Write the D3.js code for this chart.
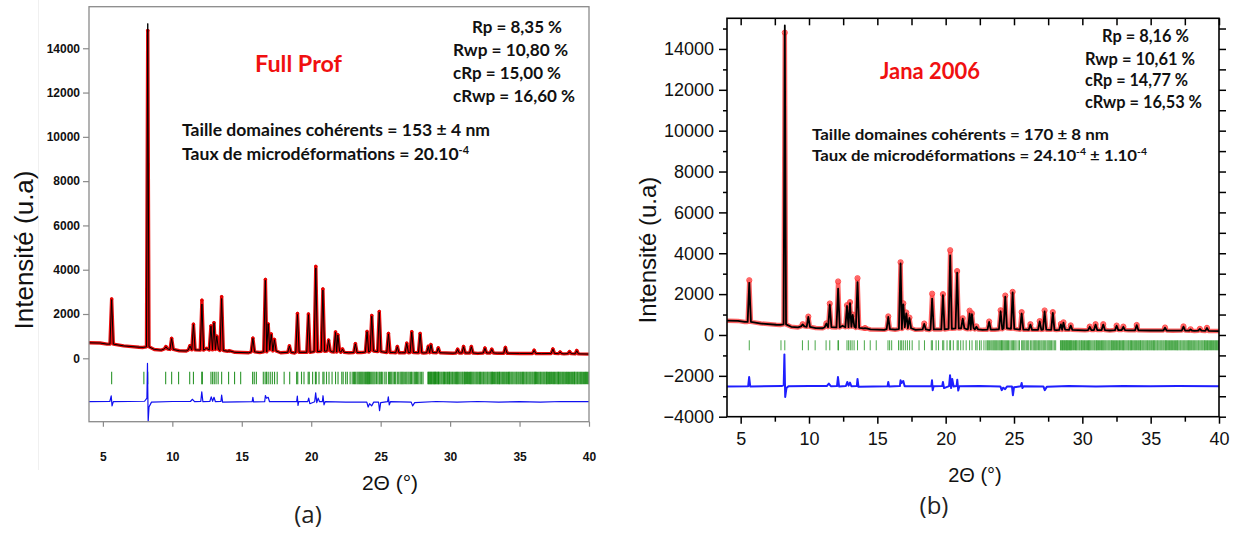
<!DOCTYPE html>
<html><head><meta charset="utf-8">
<script src="https://cdn.jsdelivr.net/npm/d3@7"></script>
<style>body{margin:0;background:#fff}svg{display:block}</style>
</head><body>
<svg id="chart" width="1239" height="534"></svg>
<script>
// ---------------- DATA ----------------
// Reflection profile (same measured pattern for both refinements)
const peakPos  = [5.63, 8.23, 9.54, 9.95, 11.27, 11.52, 12.13, 12.78, 13.0, 13.2, 13.55, 14.1, 15.8, 16.7, 16.9, 17.12, 17.35, 18.43, 19.01, 19.8, 20.33, 20.84, 21.25, 21.75, 21.92, 22.25, 23.18, 24.02, 24.36, 24.9, 25.56, 26.2, 26.88, 27.24, 27.84, 28.43, 28.62, 29.15, 30.54, 30.97, 31.53, 32.51, 33.0, 33.98, 36.05, 37.4, 37.92, 38.6, 39.12];
const peakBase = [640, 520, 420, 400, 380, 380, 370, 380, 420, 400, 350, 320, 290, 290, 420, 380, 330, 270, 270, 270, 300, 320, 330, 280, 330, 270, 260, 280, 330, 300, 260, 250, 250, 260, 250, 250, 260, 250, 240, 240, 240, 240, 240, 230, 220, 220, 210, 210, 200];
const peakObs  = [2680, 14800, 530, 900, 570, 1540, 2620, 1460, 1610, 1000, 2780, 340, 910, 3560, 1550, 1100, 850, 560, 2020, 2000, 4150, 3130, 820, 1190, 1060, 420, 660, 1210, 1930, 2110, 1120, 530, 680, 1200, 1120, 540, 620, 470, 410, 530, 530, 460, 410, 490, 365, 420, 280, 300, 350];
const peakCalcFullProf = [2650, 15120, 520, 890, 560, 1520, 2450, 1450, 1600, 1000, 2700, 330, 900, 3520, 1560, 1080, 840, 550, 1980, 1970, 4080, 3080, 820, 1170, 1050, 410, 650, 1200, 1900, 2080, 1100, 520, 670, 1180, 1100, 530, 610, 460, 400, 520, 520, 450, 400, 480, 355, 410, 275, 295, 340];
const peakCalcJana = [2550, 15150, 520, 880, 560, 1480, 2270, 1420, 1560, 980, 2590, 330, 880, 3500, 1500, 1060, 830, 540, 1780, 1950, 3900, 3050, 800, 1040, 1020, 400, 640, 1160, 1880, 2080, 1050, 510, 660, 1150, 1080, 520, 600, 460, 400, 510, 510, 450, 400, 480, 355, 410, 275, 295, 340];
const bgX = [4, 4.8, 5.3, 6.5, 7.6, 7.9, 8.7, 9.2, 10.5, 11.0, 12.45, 14.5, 15.5, 16.3, 17.8, 18.8, 21.5, 22.7, 23.6, 25.9, 26.5, 28.1, 29.7, 30.2, 32.0, 33.4, 35.0, 36.6, 38.2, 40];
const bgY = [700, 690, 640, 560, 500, 490, 400, 370, 340, 330, 450, 270, 250, 260, 250, 240, 290, 250, 260, 260, 250, 240, 240, 230, 220, 230, 220, 210, 200, 190];

// Bragg reflection positions (2θ)
const braggPos = [5.63, 7.95, 8.23, 9.52, 9.95, 10.45, 11.25, 11.52, 12.12, 12.16, 12.78, 12.9, 13.02, 13.15, 13.3, 13.55, 14.05, 14.48, 14.92, 15.78, 15.9, 16.05, 16.55, 16.68, 16.78, 16.9, 17.05, 17.2, 17.36, 17.55, 18.05, 18.45, 18.95, 19.03, 19.3, 19.48, 19.78, 19.86, 20.1, 20.3, 20.36, 20.56, 20.84, 20.92, 21.1, 21.28, 21.5, 21.75, 21.93, 22.2, 22.3, 22.48, 22.6, 22.8, 22.95, 23.05, 23.12, 23.2, 23.3, 23.38, 23.46, 23.53, 23.6, 23.67, 23.74, 23.82, 23.9, 23.97, 24.04, 24.09, 24.14, 24.2, 24.28, 24.36, 24.44, 24.52, 24.6, 24.7, 24.8, 24.9, 24.97, 25.06, 25.15, 25.3, 25.4, 25.56, 25.64, 25.72, 25.8, 25.9, 26.0, 26.08, 26.2, 26.3, 26.4, 26.48, 26.55, 26.62, 26.7, 26.8, 26.88, 26.97, 27.05, 27.14, 27.22, 27.32, 27.42, 27.5, 27.58, 27.66, 27.75, 27.85, 27.95, 28.05, 28.4, 28.45, 28.5, 28.55, 28.6, 28.65, 28.7, 28.76, 28.82, 28.86, 28.9, 28.95, 29.0, 29.06, 29.12, 29.16, 29.2, 29.27, 29.35, 29.42, 29.5, 29.55, 29.6, 29.68, 29.76, 29.82, 29.9, 29.95, 30.0, 30.08, 30.16, 30.22, 30.3, 30.38, 30.45, 30.5, 30.55, 30.62, 30.7, 30.78, 30.86, 30.92, 31.0, 31.05, 31.1, 31.18, 31.25, 31.32, 31.4, 31.46, 31.52, 31.58, 31.65, 31.72, 31.8, 31.88, 31.95, 32.02, 32.1, 32.15, 32.2, 32.28, 32.36, 32.42, 32.5, 32.58, 32.66, 32.72, 32.8, 32.88, 32.95, 33.0, 33.05, 33.12, 33.2, 33.28, 33.36, 33.42, 33.5, 33.55, 33.6, 33.68, 33.76, 33.83, 33.9, 33.97, 34.05, 34.12, 34.2, 34.25, 34.3, 34.38, 34.45, 34.52, 34.6, 34.68, 34.76, 34.82, 34.9, 34.97, 35.05, 35.12, 35.2, 35.25, 35.3, 35.38, 35.46, 35.52, 35.6, 35.68, 35.75, 35.82, 35.9, 35.97, 36.05, 36.1, 36.15, 36.22, 36.3, 36.38, 36.46, 36.52, 36.6, 36.68, 36.75, 36.82, 36.9, 36.95, 37.0, 37.08, 37.16, 37.22, 37.3, 37.38, 37.45, 37.52, 37.6, 37.68, 37.75, 37.8, 37.86, 37.93, 38.0, 38.08, 38.15, 38.22, 38.3, 38.38, 38.46, 38.52, 38.6, 38.68, 38.75, 38.82, 38.9, 38.95, 39.0, 39.08, 39.16, 39.22, 39.3, 39.38, 39.45, 39.52, 39.6, 39.68, 39.75, 39.82, 39.9, 39.96];

// Difference curves (obs - calc, offset)
const diffFullProf = [[4,-1960],[5.5,-1950],[5.6,-1700],[5.66,-2150],[5.75,-1960],[8.0,-1940],[8.17,-1800],[8.21,-230],[8.26,-2863],[8.32,-2200],[8.5,-1980],[10,-1950],[11.3,-1950],[11.45,-1850],[11.6,-1960],[12.05,-1950],[12.12,-1510],[12.2,-1960],[12.7,-1950],[12.8,-1740],[12.9,-1940],[13.0,-1760],[13.1,-1960],[13.5,-1950],[13.55,-1660],[13.62,-1980],[15.75,-1960],[15.8,-1760],[15.85,-1970],[16.65,-1960],[16.7,-1680],[16.78,-1800],[16.9,-1760],[17.0,-1960],[18.95,-1960],[19.0,-1710],[19.05,-2130],[19.1,-1960],[19.75,-1960],[19.82,-1800],[19.9,-2050],[20.25,-1960],[20.32,-1560],[20.4,-2000],[20.5,-1800],[20.6,-1960],[20.8,-1960],[20.85,-1690],[20.92,-2100],[21.0,-1960],[22.5,-1980],[24.0,-1980],[24.1,-2200],[24.2,-2050],[24.35,-2150],[24.5,-1980],[24.85,-1980],[24.92,-2360],[25.0,-2000],[25.5,-1960],[25.55,-1740],[25.62,-2100],[25.7,-1960],[27.2,-1980],[27.3,-2150],[27.45,-2000],[29,-1950],[30.5,-1975],[32,-1950],[33.5,-1975],[35,-1955],[36.5,-1975],[38,-1950],[40,-1960]];
const diffJana = [[4,-2520],[5.55,-2510],[5.62,-2060],[5.7,-2520],[8.0,-2500],[8.15,-2450],[8.2,-950],[8.26,-3030],[8.35,-2600],[8.5,-2510],[10,-2500],[11.3,-2500],[11.45,-2380],[11.6,-2510],[12.05,-2500],[12.12,-2060],[12.2,-2520],[12.7,-2500],[12.8,-2300],[12.9,-2480],[13.0,-2330],[13.1,-2510],[13.5,-2500],[13.55,-2150],[13.62,-2540],[15.75,-2510],[15.8,-2300],[15.86,-2520],[16.65,-2500],[16.7,-2220],[16.78,-2350],[16.9,-2250],[17.0,-2510],[18.95,-2510],[19.0,-2220],[19.05,-2700],[19.12,-2510],[19.75,-2500],[19.8,-2300],[19.88,-2600],[20.25,-2500],[20.32,-1970],[20.4,-2600],[20.48,-2150],[20.58,-2520],[20.8,-2500],[20.85,-2190],[20.92,-2720],[21.0,-2510],[22.5,-2500],[24.0,-2520],[24.1,-2700],[24.2,-2580],[24.35,-2650],[24.5,-2520],[24.85,-2520],[24.92,-2950],[25.0,-2560],[25.5,-2510],[25.56,-2350],[25.62,-2600],[25.7,-2510],[27.15,-2520],[27.25,-2700],[27.4,-2540],[29,-2500],[31,-2520],[33,-2500],[35,-2515],[37,-2500],[40,-2510]];

// Axis ticks
const xTicks = [5, 10, 15, 20, 25, 30, 35, 40];
const xMinorTicks = [7.5, 12.5, 17.5, 22.5, 27.5, 32.5, 37.5];
const yTicksFullProf = [0, 2000, 4000, 6000, 8000, 10000, 12000, 14000];
const yTicksJana = [-4000, -2000, 0, 2000, 4000, 6000, 8000, 10000, 12000, 14000];
const yMinorJana = [-3000, -1000, 1000, 3000, 5000, 7000, 9000, 11000, 13000, 15000];

// Texts
const statsFullProf = ["Rp = 8,35 %", "Rwp = 10,80 %", "cRp = 15,00 %", "cRwp = 16,60 %"];
const statsJana = ["Rp = 8,16 %", "Rwp = 10,61 %", "cRp = 14,77 %", "cRwp = 16,53 %"];

// ---------------- DRAWING ----------------
const svg = d3.select("#chart");

function buildProfile(tops) {
  const hw = 0.12, n = peakPos.length, pts = [], spans = [];
  for (let i = 0; i < n; i++) {
    const p = peakPos[i];
    const w = i === 1 ? 0.09 : hw;
    const l = i > 0 ? Math.max(p - w, (peakPos[i-1] + p) / 2) : p - w;
    const r = i < n - 1 ? Math.min(p + w, (p + peakPos[i+1]) / 2) : p + w;
    spans.push([l, r]);
    pts.push([l, peakBase[i]], [p, tops[i]], [r, peakBase[i]]);
  }
  bgX.forEach((x, i) => { if (!spans.some(s => x >= s[0] - 0.05 && x <= s[1] + 0.05)) pts.push([x, bgY[i]]); });
  pts.sort((a, b) => a[0] - b[0]);
  return pts;
}

function panel(cfg) {
  const x = d3.scaleLinear().domain([4, 40]).range([cfg.x0, cfg.x1]);
  const y = d3.scaleLinear().domain(cfg.yDomain).range([cfg.y1, cfg.y0]);
  const g = svg.append("g");
  const clipId = "clip" + cfg.id;
  g.append("clipPath").attr("id", clipId).append("rect")
    .attr("x", cfg.x0).attr("y", cfg.y0).attr("width", cfg.x1 - cfg.x0).attr("height", cfg.y1 - cfg.y0);
  const plot = g.append("g").attr("clip-path", `url(#${clipId})`);
  const line = d3.line().x(d => x(d[0])).y(d => y(d[1]));

  const obs = buildProfile(peakObs);
  const calc = buildProfile(cfg.calc);
  plot.append("path").attr("d", line(obs)).attr("fill", "none")
    .attr("stroke", cfg.red).attr("stroke-width", cfg.redWidth).attr("stroke-linejoin", "round").attr("opacity", cfg.redOpacity);
  plot.selectAll(".obsPt").data(obs.filter(d => peakPos.includes(d[0]))).enter()
    .append("circle").attr("cx", d => x(d[0])).attr("cy", d => y(d[1])).attr("r", cfg.dotR)
    .attr("fill", cfg.dotFill).attr("stroke", cfg.red).attr("stroke-width", 1).attr("opacity", 0.85);
  plot.append("path").attr("d", line(calc)).attr("fill", "none")
    .attr("stroke", "#000").attr("stroke-width", cfg.calcWidth).attr("stroke-linejoin", "round");

  plot.selectAll(".bragg").data(braggPos).enter().append("line")
    .attr("x1", d => x(d)).attr("x2", d => x(d))
    .attr("y1", y(cfg.braggTop)).attr("y2", y(cfg.braggBottom))
    .attr("stroke", cfg.green).attr("stroke-width", cfg.greenWidth).attr("opacity", 0.85);

  plot.append("path").attr("d", line(cfg.diff)).attr("fill", "none")
    .attr("stroke", cfg.blue).attr("stroke-width", cfg.blueWidth).attr("stroke-linejoin", "round");

  return { g, x, y };
}

// ---------- Panel (a) FullProf ----------
svg.append("line").attr("x1", 38.5).attr("x2", 38.5).attr("y1", 0).attr("y2", 470).attr("stroke", "#f0f0f0");
const A = panel({
  id: "A", x0: 89, x1: 589, y0: 6.7, y1: 421.7, yDomain: [-2863, 15877],
  calc: peakCalcFullProf, diff: diffFullProf, braggTop: -605, braggBottom: -1170,
  red: "#e60000", redWidth: 3.4, redOpacity: 0.95, dotR: 1.3, dotFill: "#e60000", calcWidth: 1,
  green: "#0a850a", greenWidth: 1.1, blue: "#1010f0", blueWidth: 1.2
});
A.g.append("rect").attr("x", 89).attr("y", 6.7).attr("width", 500).attr("height", 415)
  .attr("fill", "none").attr("stroke", "#8a8a8a").attr("stroke-width", 1.3);
const axAL = A.g.append("g").attr("transform", "translate(89,0)")
  .call(d3.axisLeft(A.y).tickValues(yTicksFullProf).tickSize(6).tickPadding(3).tickFormat(d3.format("d")));
const axAB = A.g.append("g").attr("transform", "translate(0,421.7)")
  .call(d3.axisBottom(A.x).tickValues(xTicks).tickSize(5).tickPadding(26).tickFormat(d3.format("d")));
[axAL, axAB].forEach(a => {
  a.select(".domain").remove();
  a.selectAll(".tick line").attr("stroke", "#8a8a8a").attr("stroke-width", 1.2);
  a.selectAll("text").attr("font-family", "Liberation Sans, Arial, sans-serif").attr("font-size", 12)
    .attr("font-weight", "bold").attr("fill", "#111");
});
A.g.append("text").attr("transform", "translate(33,250) rotate(-90)").attr("text-anchor", "middle")
  .attr("font-family", "Liberation Sans, Arial, sans-serif").attr("font-size", 26).attr("fill", "#111")
  .text("Intensité (u.a)");
A.g.append("text").attr("x", 390).attr("y", 490).attr("text-anchor", "middle")
  .attr("font-family", "Liberation Sans, Arial, sans-serif").attr("font-size", 21).attr("fill", "#111")
  .text("2Θ (°)");
A.g.append("text").attr("x", 308).attr("y", 523).attr("text-anchor", "middle")
  .attr("font-family", "Open Sans, sans-serif").attr("font-size", 24).attr("fill", "#222").text("(a)");

// ---------- Panel (b) Jana 2006 ----------
const B = panel({
  id: "B", x0: 727, x1: 1219, y0: 18.3, y1: 416.7, yDomain: [-4000, 15500],
  calc: peakCalcJana, diff: diffJana, braggTop: -260, braggBottom: -750,
  red: "#ff3030", redWidth: 4.5, redOpacity: 0.75, dotR: 2.6, dotFill: "none", calcWidth: 1.8,
  green: "#2c9a2c", greenWidth: 1, blue: "#1f1fff", blueWidth: 2
});
B.g.append("rect").attr("x", 727).attr("y", 18.3).attr("width", 492).attr("height", 398.4)
  .attr("fill", "none").attr("stroke", "#000").attr("stroke-width", 1.6);
const fontB = "Liberation Sans, Arial, sans-serif";
function styleB(a, labels) {
  a.select(".domain").remove();
  a.selectAll(".tick line").attr("stroke", "#000").attr("stroke-width", 1.5);
  if (labels) a.selectAll("text").attr("font-family", fontB).attr("font-size", 18).attr("fill", "#111");
  else a.selectAll("text").remove();
}
styleB(B.g.append("g").attr("transform", "translate(727,0)")
  .call(d3.axisLeft(B.y).tickValues(yTicksJana).tickSize(8).tickPadding(5).tickFormat(d3.format("d"))), true);
styleB(B.g.append("g").attr("transform", "translate(727,0)")
  .call(d3.axisLeft(B.y).tickValues(yMinorJana).tickSize(4)), false);
styleB(B.g.append("g").attr("transform", "translate(1219,0)")
  .call(d3.axisLeft(B.y).tickValues(yTicksJana.concat(yMinorJana)).tickSize(-7)), false);
styleB(B.g.append("g").attr("transform", "translate(0,416.7)")
  .call(d3.axisBottom(B.x).tickValues(xTicks).tickSize(7).tickPadding(9).tickFormat(d3.format("d"))), true);
styleB(B.g.append("g").attr("transform", "translate(0,416.7)")
  .call(d3.axisBottom(B.x).tickValues(xMinorTicks).tickSize(5)), false);
styleB(B.g.append("g").attr("transform", "translate(0,18.3)")
  .call(d3.axisTop(B.x).tickValues(xTicks.concat(xMinorTicks)).tickSize(-7)), false);
B.g.append("text").attr("transform", "translate(656,250) rotate(-90)").attr("text-anchor", "middle")
  .attr("font-family", fontB).attr("font-size", 24).attr("fill", "#111").text("Intensité (u.a)");
B.g.append("text").attr("x", 975).attr("y", 482).attr("text-anchor", "middle")
  .attr("font-family", fontB).attr("font-size", 20).attr("fill", "#111").text("2Θ (°)");
B.g.append("text").attr("x", 934).attr("y", 514).attr("text-anchor", "middle")
  .attr("font-family", "Open Sans, sans-serif").attr("font-size", 24).attr("fill", "#222").text("(b)");

// ---------- Annotations ----------
const annFont = "Lato, 'Open Sans', sans-serif";
function ann(txt, x, y, w, size, color) {
  const t = svg.append("text").attr("x", x).attr("y", y).attr("font-family", annFont)
    .attr("font-weight", "bold").attr("font-size", size).attr("fill", color || "#111");
  if (Array.isArray(txt)) {
    txt.forEach(p => {
      const ts = t.append("tspan").text(p.t);
      if (p.sup) ts.attr("font-size", size * 0.62).attr("baseline-shift", "super");
    });
  } else t.text(txt);
  if (w) t.attr("textLength", w).attr("lengthAdjust", "spacingAndGlyphs");
  return t;
}
// FullProf
ann(statsFullProf[0], 472, 33, 90, 17);
ann(statsFullProf[1], 453, 56, 115, 17);
ann(statsFullProf[2], 453, 79, 108, 17);
ann(statsFullProf[3], 453, 101.5, 122, 17);
ann("Full Prof", 255, 72, 87, 22, "#f01010");
ann("Taille domaines cohérents = 153 ± 4 nm", 182, 136, 308, 17);
ann([{t: "Taux de microdéformations = 20.10"}, {t: "-4", sup: true}], 182, 159.5, 287, 17);
// Jana
ann(statsJana[0], 1102, 42, 87, 16.5);
ann(statsJana[1], 1085, 64.5, 110, 16.5);
ann(statsJana[2], 1085, 86, 103, 16.5);
ann(statsJana[3], 1085, 108, 117, 16.5);
ann("Jana 2006", 880, 79, 100, 22, "#f01010");
ann("Taille domaines cohérents = 170 ± 8 nm", 812, 139.5, 297, 16);
ann([{t: "Taux de microdéformations = 24.10"}, {t: "-4", sup: true}, {t: " ± 1.10"}, {t: "-4", sup: true}], 812, 160.5, 335, 16);
</script>
</body></html>
